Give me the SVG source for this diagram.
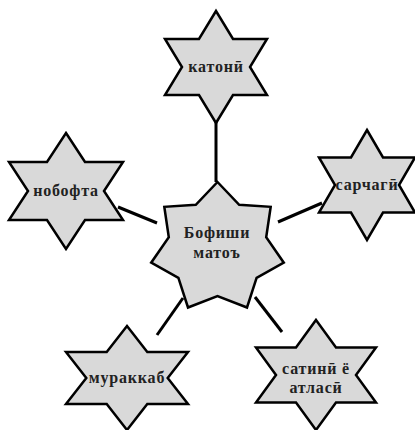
<svg xmlns="http://www.w3.org/2000/svg" width="415" height="430" viewBox="0 0 415 430">
<style>
.star{fill:#d9d9d9;stroke:#000;stroke-width:2.5;stroke-linejoin:miter}
.lbl{font-family:"Liberation Serif","DejaVu Serif",serif;font-weight:bold;font-size:16px;letter-spacing:0.8px;fill:#222;text-anchor:middle}
.conn line{stroke:#000;stroke-width:3}
</style>
<rect width="415" height="430" fill="#fff"/>
<g id="connectors" class="conn">
<line x1="216" y1="122" x2="216" y2="182"/>
<line x1="118" y1="207" x2="157" y2="223"/>
<line x1="278" y1="222" x2="322" y2="203"/>
<line x1="183" y1="298" x2="157" y2="335"/>
<line x1="255" y1="297" x2="282" y2="332"/>
</g>
<g id="center">
<polygon class="star" points="217.5,182 239.2,204.8 270.7,206.8 266.2,237.3 283.8,262.7 256.6,277.9 247,307.5 217.5,296 188,307.5 178.4,277.9 151.2,262.7 168.8,237.3 164.3,206.8 195.8,204.8"/>
<text class="lbl" x="217" y="238">Бофиши</text>
<text class="lbl" x="217" y="258">матоъ</text>
</g>
<g id="top">
<polygon class="star" points="216,11 233,39 267,39 250,67 267,95 233,95 216,123 199,95 165,95 182,67 165,39 199,39"/>
<text class="lbl" x="216" y="72">катонӣ</text>
</g>
<g id="left">
<polygon class="star" points="66,133 85,162 123,162 104,191 123,220 85,220 66,249 47,220 9,220 28,191 9,162 47,162"/>
<text class="lbl" x="66" y="196">нобофта</text>
</g>
<g id="right">
<polygon class="star" points="367,130 383,157.5 415,157.5 399,185 415,212.5 383,212.5 367,240 351,212.5 319,212.5 335,185 319,157.5 351,157.5"/>
<text class="lbl" x="367" y="190">сарчагӣ</text>
</g>
<g id="bottomleft">
<polygon class="star" points="127,326 147.3,352 188,352 167.7,378 188,404 147.3,404 127,430 106.7,404 66,404 86.3,378 66,352 106.7,352"/>
<text class="lbl" x="127" y="383">мураккаб</text>
</g>
<g id="bottomright">
<polygon class="star" points="316,320 336,347.5 376,347.5 356,375 376,402.5 336,402.5 316,430 296,402.5 256,402.5 276,375 256,347.5 296,347.5"/>
<text class="lbl" x="316" y="374">сатинӣ ё</text>
<text class="lbl" x="316" y="393">атласӣ</text>
</g>
</svg>
